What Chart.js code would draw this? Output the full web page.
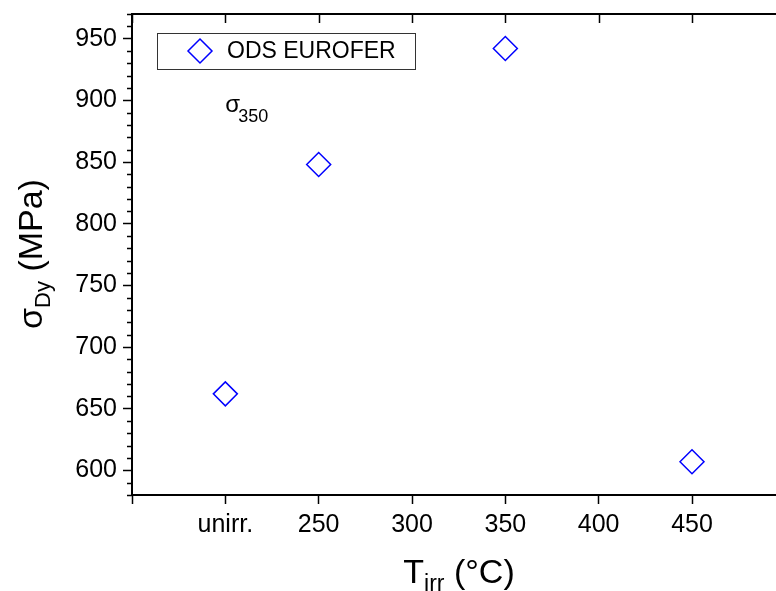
<!DOCTYPE html>
<html>
<head>
<meta charset="utf-8">
<script src="https://cdn.jsdelivr.net/npm/chart.js@4.4.1/dist/chart.umd.min.js"></script>
<style>
  html, body { margin: 0; padding: 0; background: #fff; overflow: hidden; }
  #wrap { width: 776px; height: 591px; }
</style>
</head>
<body>
<div id="wrap"><canvas id="sigmaCha" width="776" height="591"></canvas></div>
<script>
// irradiation temperature slots; "unirr." sits in the 200 slot
const xTicks = [150, 200, 250, 300, 350, 400, 450];
const xTickLabels = ['', 'unirr.', '250', '300', '350', '400', '450'];
const yTicks = [600, 650, 700, 750, 800, 850, 900, 950];

const irrTemp = [200, 250, 350, 450];
const sigmaDy = [662, 848, 942, 607];

const FONT = '"Liberation Sans", Arial, sans-serif';
const BLUE = '#0000ff';

function drawRich(ctx, parts, x, y) {
    let total = 0;
    parts.forEach(p => {
        ctx.font = p.size + 'px ' + FONT;
        p.w = ctx.measureText(p.text).width;
        total += p.w;
    });
    let cx = x - total / 2;
    ctx.textAlign = 'left';
    ctx.textBaseline = 'alphabetic';
    parts.forEach(p => {
        ctx.font = p.size + 'px ' + FONT;
        ctx.fillText(p.text, cx, y + (p.dy || 0));
        cx += p.w;
    });
}

function noPadding(scale) {
    scale.paddingLeft = 0;
    scale.paddingRight = 0;
    scale.paddingTop = 0;
    scale.paddingBottom = 0;
}

// top frame line, inward top ticks, minor y ticks, legend, labels
const framePlugin = {
    id: 'frame',
    afterDraw(chart) {
        const ctx = chart.ctx;
        const area = chart.chartArea;
        const xs = chart.scales.x;
        const ys = chart.scales.y;
        ctx.save();
        ctx.strokeStyle = '#000';

        ctx.lineWidth = 2;
        ctx.beginPath();
        ctx.moveTo(area.left - 1, area.top);
        ctx.lineTo(area.right, area.top);
        ctx.stroke();

        ctx.lineWidth = 1.5;
        ctx.beginPath();
        xTicks.forEach(v => {
            const px = Math.round(xs.getPixelForValue(v)) + 0.5;
            ctx.moveTo(px, area.top);
            ctx.lineTo(px, area.top + 9);
        });
        for (let v = 580; v <= 970; v += 10) {
            if (v % 50 === 0) continue;
            const py = Math.round(ys.getPixelForValue(v)) + 0.5;
            ctx.moveTo(area.left - 5, py);
            ctx.lineTo(area.left, py);
        }
        ctx.stroke();

        // legend box
        ctx.lineWidth = 1;
        ctx.strokeStyle = '#333';
        ctx.strokeRect(157.5, 33.5, 258, 36);
        const lx = 200, ly = 51, r = 12;
        ctx.strokeStyle = BLUE;
        ctx.lineWidth = 1.5;
        ctx.beginPath();
        ctx.moveTo(lx, ly - r);
        ctx.lineTo(lx + r, ly);
        ctx.lineTo(lx, ly + r);
        ctx.lineTo(lx - r, ly);
        ctx.closePath();
        ctx.stroke();
        ctx.fillStyle = '#000';
        ctx.font = '23px ' + FONT;
        ctx.textAlign = 'left';
        ctx.textBaseline = 'middle';
        ctx.fillText('ODS EUROFER', 227, 52);

        // sigma_350 note
        const nx = xs.getPixelForValue(200);
        const ny = ys.getPixelForValue(900);
        ctx.font = '24px ' + FONT;
        ctx.textBaseline = 'alphabetic';
        ctx.fillText('σ', nx, ny + 12);
        ctx.font = '18px ' + FONT;
        ctx.fillText('350', nx + 13, ny + 22);

        // axis titles
        drawRich(ctx, [
            { text: 'T', size: 34 },
            { text: 'irr', size: 23, dy: 8 },
            { text: ' (°C)', size: 34 }
        ], 459, 583);

        ctx.translate(42, 254);
        ctx.rotate(-Math.PI / 2);
        drawRich(ctx, [
            { text: 'σ', size: 34 },
            { text: 'Dy', size: 22, dy: 8 },
            { text: ' (MPa)', size: 34 }
        ], 0, 0);
        ctx.restore();
    }
};

const ctx = document.getElementById('sigmaCha').getContext('2d');

new Chart(ctx, {
    type: 'scatter',
    data: {
        datasets: [{
            label: 'ODS EUROFER',
            data: irrTemp.map((t, i) => ({ x: t, y: sigmaDy[i] })),
            pointStyle: 'rectRot',
            pointRadius: 12,
            pointHoverRadius: 12,
            borderColor: BLUE,
            borderWidth: 1.5,
            backgroundColor: 'rgba(0,0,0,0)',
            showLine: false
        }]
    },
    options: {
        responsive: false,
        animation: false,
        devicePixelRatio: 1,
        layout: {
            autoPadding: false,
            padding: { top: 14, left: 0, right: 0, bottom: 0 }
        },
        plugins: {
            legend: { display: false },
            tooltip: { enabled: false }
        },
        scales: {
            x: {
                type: 'linear',
                min: 150,
                max: 495,
                afterBuildTicks: scale => {
                    scale.ticks = xTicks.map(v => ({ value: v }));
                },
                afterFit: scale => {
                    scale.height = 96;
                    noPadding(scale);
                },
                ticks: {
                    color: '#000',
                    font: { family: FONT, size: 25 },
                    padding: 6,
                    maxRotation: 0,
                    autoSkip: false,
                    callback: v => xTickLabels[xTicks.indexOf(v)]
                },
                grid: {
                    drawOnChartArea: false,
                    tickLength: 9,
                    tickColor: '#000',
                    tickWidth: 1.5
                },
                border: { color: '#000', width: 2 }
            },
            y: {
                min: 580,
                max: 970,
                afterBuildTicks: scale => {
                    scale.ticks = yTicks.map(v => ({ value: v }));
                },
                afterFit: scale => {
                    scale.width = 132;
                    noPadding(scale);
                },
                ticks: {
                    color: '#000',
                    font: { family: FONT, size: 25 },
                    padding: 6
                },
                grid: {
                    drawOnChartArea: false,
                    tickLength: 9,
                    tickColor: '#000',
                    tickWidth: 1.5
                },
                border: { color: '#000', width: 2 }
            }
        }
    },
    plugins: [framePlugin]
});
</script>
</body>
</html>
